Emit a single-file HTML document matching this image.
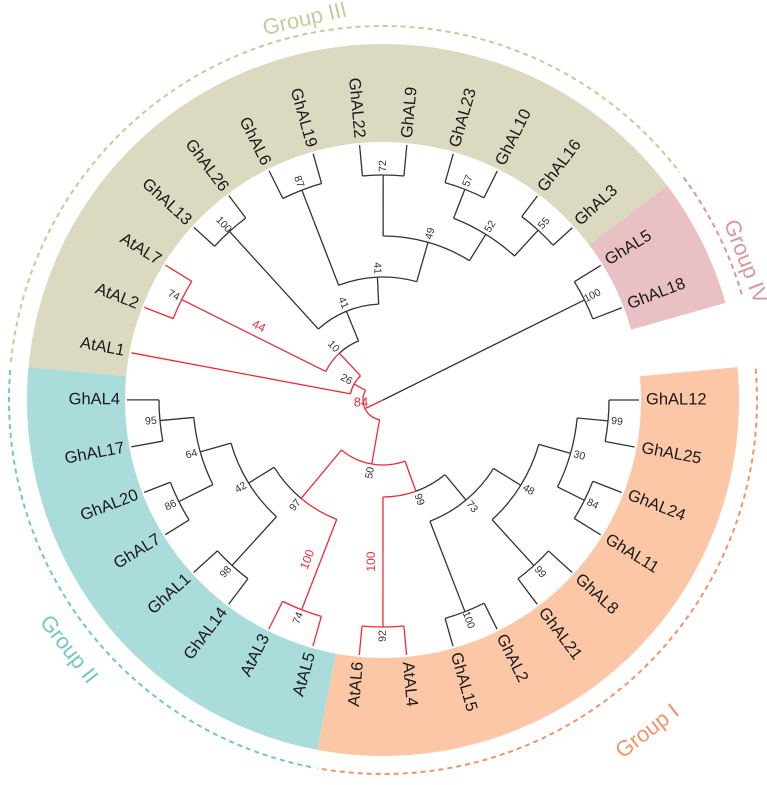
<!DOCTYPE html>
<html><head><meta charset="utf-8"><style>
html,body{margin:0;padding:0;background:#fff;}
svg{display:block;font-family:"Liberation Sans",sans-serif;}
</style></head><body>
<svg id="chart" width="767" height="785" viewBox="0 0 767 785" xmlns="http://www.w3.org/2000/svg"></svg>
<script>
const leaves=['GhAL12','GhAL25','GhAL24','GhAL11','GhAL8','GhAL21','GhAL2','GhAL15','AtAL4','AtAL6','AtAL5','AtAL3','GhAL14','GhAL1','GhAL7','GhAL20','GhAL17','GhAL4','AtAL1','AtAL2','AtAL7','GhAL13','GhAL26','GhAL6','GhAL19','GhAL22','GhAL9','GhAL23','GhAL10','GhAL16','GhAL3','GhAL5','GhAL18'];
const nodeNames=['root','N518','N84','N26','N10','N74a','N41a','N100a','N41b','N87','N49','N72','N52','N57','N55','N50','N97','N42','N64','N95','N86','N98','N74b','N99','N92','N73','N100b','N48','N30','N99c','N84b','N99b'];
const bootstrap={N518:100,N84:84,N26:26,N10:10,N74a:74,N41a:41,N100a:100,N41b:41,N87:87,N49:49,N72:72,N52:52,N57:57,N55:55,N50:50,N97:97,N42:42,N64:64,N95:95,N86:86,N98:98,N74b:74,N99:99,N92:92,N73:73,N100b:100,N48:48,N30:30,N99c:99,N84b:84,N99b:99};
const children={root:['N84','N518'],N518:['GhAL5','GhAL18'],N84:['N26','N50'],N26:['AtAL1','N10'],N10:['N74a','N41a'],N74a:['AtAL7','AtAL2'],N41a:['N100a','N41b'],N100a:['GhAL13','GhAL26'],N41b:['N87','N49'],N87:['GhAL6','GhAL19'],N49:['N72','N52'],N72:['GhAL22','GhAL9'],N52:['N57','N55'],N57:['GhAL23','GhAL10'],N55:['GhAL16','GhAL3'],N50:['N97','N99'],N97:['N42','N74b'],N42:['N64','N98'],N64:['N95','N86'],N95:['GhAL4','GhAL17'],N86:['GhAL20','GhAL7'],N98:['GhAL1','GhAL14'],N74b:['AtAL3','AtAL5'],N99:['N92','N73'],N92:['AtAL6','AtAL4'],N73:['N100b','N48'],N100b:['GhAL15','GhAL2'],N48:['N30','N99b'],N30:['N99c','N84b'],N99c:['GhAL12','GhAL25'],N84b:['GhAL24','GhAL11'],N99b:['GhAL8','GhAL21']};
const depth={root:0,N518:225,N84:20,N26:33,N10:64,N74a:225,N41a:96,N100a:228,N41b:123,N87:225,N49:164,N72:225,N52:195,N57:226,N55:230,N50:65,N97:128,N42:158,N64:190,N95:224,N86:228,N98:224,N74b:225,N99:97,N92:227,N73:130,N100b:227,N48:162,N30:195,N99c:226,N84b:225,N99b:224};
const branchLabels={N74a:'44',N74b:'100',N92:'100'};
const groups=['Group I','Group II','Group III','Group IV'];
const groupStart=[-0.5,9.5,17.5,30.5];
const groupEnd=[9.5,17.5,30.5,32.5];

const CX=383,CY=400,STEP=10.59,RLEAF=256,RIN=258,ROUT=356,RDASH=374;
const bandFill=['#fbc7a6','#aadcdb','#dbd9bf','#e9c0c3'];
const dashCol=['#f0956a','#74c6c6','#c8c99c','#d8979b'];
const svg=document.getElementById('chart');
const NS='http://www.w3.org/2000/svg';
function el(t,a,p){const e=document.createElementNS(NS,t);for(const k in a)e.setAttribute(k,a[k]);(p||svg).appendChild(e);return e;}
function rad(a){return a*Math.PI/180;}
function pt(r,a){return [CX+r*Math.cos(rad(a)),CY+r*Math.sin(rad(a))];}
function arcPath(r,a1,a2){const p1=pt(r,a1),p2=pt(r,a2);const lg=Math.abs(a2-a1)>180?1:0;const sw=a2>a1?1:0;return `M${p1[0]},${p1[1]} A${r},${r} 0 ${lg} ${sw} ${p2[0]},${p2[1]}`;}
function sector(r1,r2,a1,a2){const a=pt(r2,a1),b=pt(r2,a2),c=pt(r1,a2),d=pt(r1,a1);const lg=(a2-a1)>180?1:0;return `M${a[0]},${a[1]} A${r2},${r2} 0 ${lg} 1 ${b[0]},${b[1]} L${c[0]},${c[1]} A${r1},${r1} 0 ${lg} 0 ${d[0]},${d[1]} Z`;}

groups.forEach((g,i)=>{
  const a1=groupStart[i]*STEP,a2=groupEnd[i]*STEP;
  const b=el('path',{d:sector(RIN,ROUT,a1,a2),fill:bandFill[i]});
  
  
  const d=el('path',{d:arcPath(RDASH,a1+0.5,a2-0.5),fill:'none',stroke:dashCol[i],'stroke-width':2,'stroke-dasharray':'5,4'});
  
  
});
const glab=[{x:648,y:732,r:-38},{x:68,y:650,r:52},{x:305,y:20,r:-13},{x:745,y:262,r:69}];
groups.forEach((g,i)=>{
  const t=el('text',{x:glab[i].x,y:glab[i].y,transform:`rotate(${glab[i].r} ${glab[i].x} ${glab[i].y})`,'text-anchor':'middle','dominant-baseline':'middle','font-size':22,fill:dashCol[i]});
  t.textContent=g;
  
  
});

const ang={};
function isRed(n){if(!children[n])return n.startsWith('At');return children[n].some(isRed);}
function getAng(n){if(ang[n]!==undefined)return ang[n];if(!children[n]){ang[n]=leaves.indexOf(n)*STEP;return ang[n];}const c=children[n].map(getAng);ang[n]=c.reduce((s,v)=>s+v,0)/c.length;return ang[n];}
function rOf(n){return children[n]?depth[n]:RLEAF;}
const gTree=el('g',{});


nodeNames.forEach(n=>{
  const a=getAng(n),r=depth[n];
  children[n].forEach(c=>{
    const ca=getAng(c),cr=rOf(c);const col=isRed(c)?'#ee2b34':'#333';
    if(r>0){const arc=el('path',{d:arcPath(r,a,ca),fill:'none',stroke:col,'stroke-width':1.3},gTree);
      
      }
    const p1=pt(r,ca),p2=pt(cr,ca);
    const ln=el('line',{x1:p1[0],y1:p1[1],x2:p2[0],y2:p2[1],stroke:col,'stroke-width':1.3},gTree);
    
    
    if(branchLabels[c]){const mr=(r+cr)/2;const m=pt(mr,ca+4);let rot=Math.cos(rad(ca))>=0?ca:ca+180;
      const t=el('text',{x:m[0],y:m[1],transform:`rotate(${rot} ${m[0]} ${m[1]})`,'text-anchor':'middle','dominant-baseline':'middle','font-size':12,fill:'#ee2b34'},gTree);
      t.textContent=branchLabels[c];
      
      }
  });
  if(bootstrap[n]!==undefined){
    let p,rot,col='#333';
    if(n==='N84'){p=[CX-22,CY+3];rot=0;col='#ee2b34';}
    else{p=pt(r+9,a);rot=Math.cos(rad(a))>=0?a:a+180;}
    const t=el('text',{x:p[0],y:p[1],transform:`rotate(${rot} ${p[0]} ${p[1]})`,'text-anchor':'middle','dominant-baseline':'middle','font-size':n==='N84'?13:10.5,fill:col});
    t.textContent=bootstrap[n];
    
    
  }
});
leaves.forEach((name,i)=>{
  const a=i*STEP;const right=Math.cos(rad(a))>=0;
  const t=el('text',{x:right?263:-263,y:0,transform:`translate(${CX} ${CY}) rotate(${right?a:a+180})`,'text-anchor':right?'start':'end','dominant-baseline':'middle','font-size':16.5,fill:'#1a1a1a'});
  t.textContent=name;
  
  
});
</script>
</body></html>
